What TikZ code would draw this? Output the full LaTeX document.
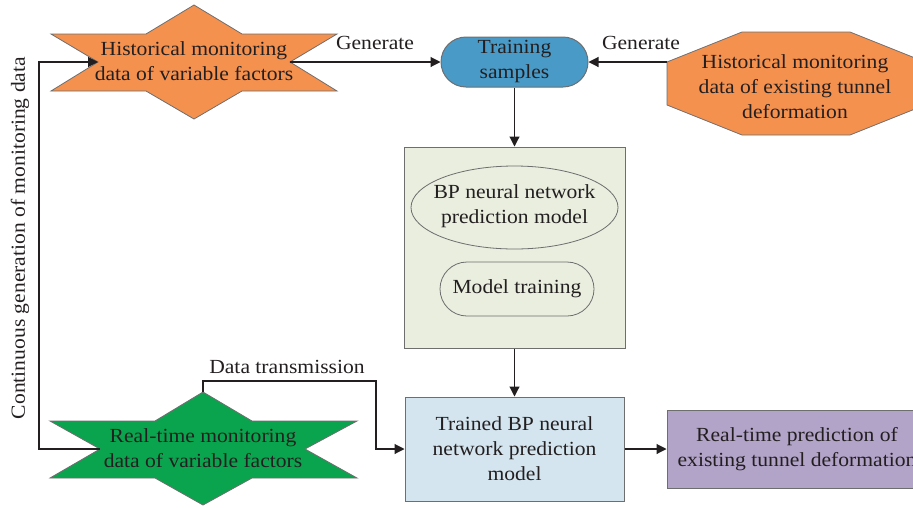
\documentclass[tikz,border=0pt]{standalone}
\usepackage{fontspec}
\setmainfont{Liberation Serif}[FakeStretch=1.08]
\usetikzlibrary{arrows.meta,shapes.geometric}

\definecolor{inkc}{HTML}{231F20}
\definecolor{edgec}{HTML}{6E6E6E}
\definecolor{orangec}{HTML}{F4914F}
\definecolor{greenc}{HTML}{0BA44E}
\definecolor{bluec}{HTML}{4A9AC7}
\definecolor{modelc}{HTML}{E9EEDF}
\definecolor{trainedc}{HTML}{D4E5EF}
\definecolor{purplec}{HTML}{B2A3C8}

\tikzset{
  txt/.style={font=\fontsize{20}{25}\selectfont, text=inkc, align=center, inner sep=0pt},
  box/.style={txt, draw=edgec, line width=1pt},
  arr/.style={draw=inkc, line width=1.1pt, -{Triangle[length=10pt,width=10pt]}},
  shapeedge/.style={draw=edgec, line width=0.8pt},
}

\begin{document}
\begin{tikzpicture}[x=1pt,y=-1pt]
\useasboundingbox (0,0) rectangle (913,507);
\clip (0,0) rectangle (913,507);

% star-shaped source: historical variable factors
\path[fill=orangec, shapeedge] (194,5) -- (242,34) -- (337,34) -- (290,62) -- (337,91)
  -- (242,91) -- (194,119) -- (146,91) -- (51,91) -- (98,62) -- (51,34) -- (146,34) -- cycle;
\node[txt] (hist) at (194,61) {Historical monitoring\\data of variable factors};
\coordinate (histL) at (98,62);
\coordinate (histR) at (290,62);

% octagon: historical tunnel deformation
\path[fill=orangec, shapeedge] (667,62) -- (742,32) -- (850,32) -- (925,62) -- (925,105)
  -- (850,135) -- (742,135) -- (667,105) -- cycle;
\node[txt] (histdef) at (795,87) {Historical monitoring\\data of existing tunnel\\deformation};
\coordinate (octL) at (667,62);

% training samples
\node[box, fill=bluec, rounded corners=25pt, minimum width=147pt, minimum height=50pt]
  (train) at (514.5,62) {Training\\samples};

% model block with its two inner shapes
\node[box, fill=modelc, minimum width=221pt, minimum height=201pt] (bp) at (514.5,247.5) {};
\draw[shapeedge] (514.5,207.5) ellipse [x radius=103.5, y radius=41.5];
\node[txt] (bpmodel) at (514.5,206.5) {BP neural network\\prediction model};
\node[box, rounded corners=27pt, minimum width=154pt, minimum height=54pt, line width=0.8pt]
  (mtrain) at (517,289) {Model training};

% trained model
\node[box, fill=trainedc, minimum width=219pt, minimum height=104pt] (trained) at (514.5,449)
  {Trained BP neural\\network prediction\\model};

% prediction output
\node[box, fill=purplec, minimum width=260pt, minimum height=78pt] (pred) at (797,449)
  {Real-time prediction of\\existing tunnel deformation};

% star-shaped source: real-time variable factors
\path[fill=greenc, shapeedge] (203,392) -- (252,421) -- (357,421) -- (305,449) -- (357,478)
  -- (252,478) -- (203,505) -- (155,478) -- (50,478) -- (100,449) -- (50,421) -- (155,421) -- cycle;
\node[txt] (rt) at (203,448) {Real-time monitoring\\data of variable factors};
\coordinate (rtL) at (100,449);
\coordinate (rtTop) at (203,392);

% connectors
\draw[arr] (histR) -- (train.west);
\node[txt] (gen1) at (375,43) {Generate};
\draw[arr] (octL) -- (train.east);
\node[txt] (gen2) at (641,43) {Generate};
\draw[arr] (train.south) -- (bp.north);
\draw[arr] (bp.south) -- (trained.north);
\draw[arr] (trained.east) -- (pred.west);

\coordinate (dtcorner) at (376,381);
\draw[arr] (rtTop) |- (dtcorner) |- (trained.west);
\node[txt] (dtlabel) at (287,367) {Data transmission};

\coordinate (loopB) at (39,449);
\coordinate (loopT) at (39,62);
\draw[arr] (rtL) -- (loopB) -- (loopT) -- (histL);
\node[txt, rotate=90] (contlabel) at (20,238) {Continuous generation of monitoring data};
\end{tikzpicture}
\end{document}
